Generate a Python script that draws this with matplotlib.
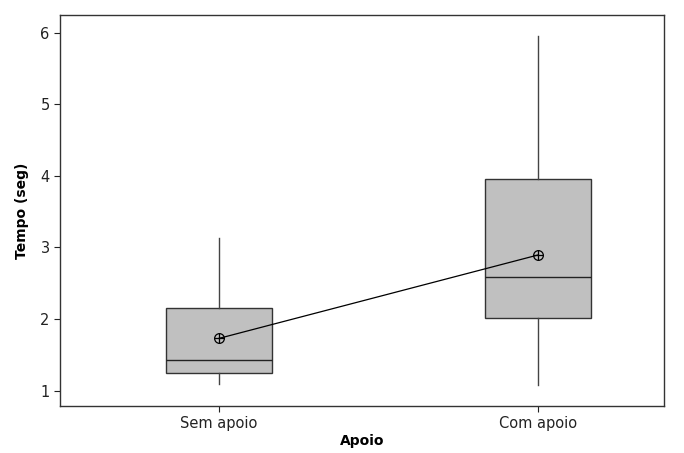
import matplotlib
matplotlib.use("Agg")
from matplotlib import pyplot as plt

# Boxplot summary values
categories = ["Sem apoio", "Com apoio"]
whisker_low = [1.09, 1.08]
q1 = [1.25, 2.01]
median = [1.43, 2.59]
q3 = [2.155, 3.957]
whisker_high = [3.13, 5.96]
means = [1.73, 2.895]

plt.rcParams['font.family'] = ['DejaVu Sans']

fig = plt.figure(figsize=(6.84, 4.53), dpi=100)
ax = fig.add_axes([60 / 684, 1 - 406 / 453, 604 / 684, 391.3 / 453])

stats = []
for i in range(len(categories)):
    stats.append(dict(label=categories[i], whislo=whisker_low[i], q1=q1[i],
                      med=median[i], q3=q3[i], whishi=whisker_high[i], fliers=[]))

pos = [1, 2]
ax.bxp(stats, positions=pos, widths=0.332, patch_artist=True, showcaps=False,
       boxprops=dict(facecolor="#c0c0c0", edgecolor="#333333", linewidth=1.0),
       whiskerprops=dict(color="#444444", linewidth=1.0),
       medianprops=dict(color="#222222", linewidth=1.0))

# mean connect line and circle-plus symbols
ax.plot(pos, means, color="black", linewidth=0.9, zorder=3)
ax.plot(pos, means, linestyle="none", marker="o", markersize=7,
        markerfacecolor="none", markeredgecolor="black", markeredgewidth=0.9, zorder=4)
ax.plot(pos, means, linestyle="none", marker="+", markersize=7,
        color="black", markeredgewidth=0.9, zorder=4)

ax.set_xlim(0.502, 2.395)
ax.set_ylim(0.786, 6.251)
ax.set_yticks([1, 2, 3, 4, 5, 6])
ax.set_xticks(pos)
ax.set_xticklabels(categories)
ax.tick_params(direction="out", length=4, width=0.8, labelsize=10.5, colors="#222222")

for s in ["left", "bottom", "top", "right"]:
    ax.spines[s].set_color("#333333")
    ax.spines[s].set_linewidth(1.0)

ax.set_ylabel("Tempo (seg)", fontsize=10, fontweight="bold", labelpad=8)
ax.set_xlabel("Apoio", fontsize=10, fontweight="bold", labelpad=2)

fig.savefig("out.png", dpi=100)
